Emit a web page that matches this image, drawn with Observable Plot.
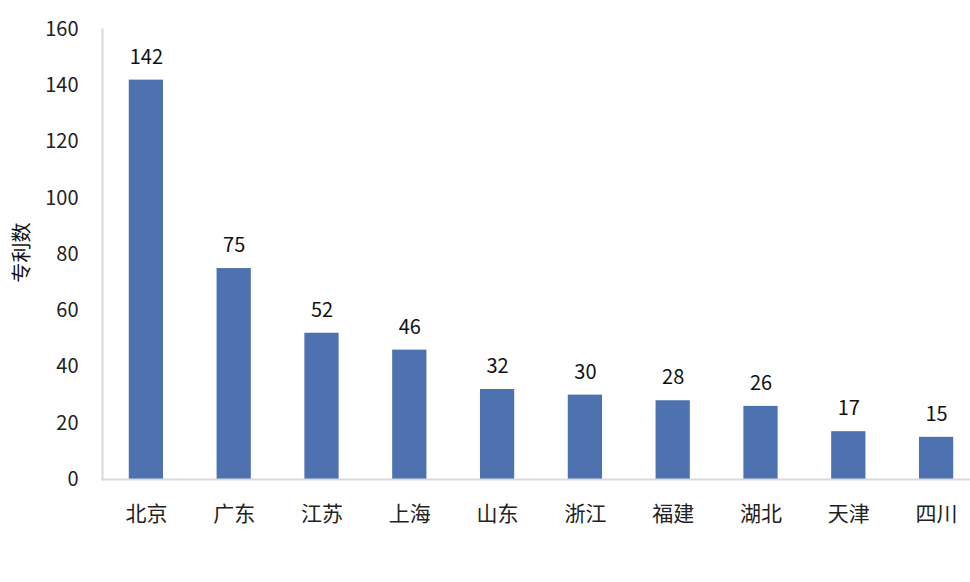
<!DOCTYPE html>
<html><head><meta charset="utf-8">
<script src="https://cdn.jsdelivr.net/npm/d3@7"></script>
<script src="https://cdn.jsdelivr.net/npm/@observablehq/plot@0.6"></script>
<style>
html,body{margin:0;padding:0;background:#fff;}
</style>
</head><body>
<div id="chart"></div>
<script>
const provinces = ["北京","广东","江苏","上海","山东","浙江","福建","湖北","天津","四川"];
const patents = [142, 75, 52, 46, 32, 30, 28, 26, 17, 15];
const yTicks = [0, 20, 40, 60, 80, 100, 120, 140, 160];
const yTitle = "专利数";

const data = provinces.map((p, i) => ({province: p, value: patents[i]}));
const font = "'Noto Sans CJK SC', 'Noto Sans', sans-serif";

const chart = Plot.plot({
  width: 970,
  height: 582,
  marginLeft: 102,
  marginRight: 0,
  marginTop: 29,
  marginBottom: 103,
  style: {fontFamily: font, background: "#fff", color: "#222"},
  x: {domain: provinces, range: [102, 980], paddingInner: 0.61, paddingOuter: 0.305, round: false, label: null},
  y: {domain: [0, 160], label: null},
  marks: [
    Plot.barY(data, {x: "province", y: "value", fill: "#4e71b0"}),
    Plot.frame({anchor: "left", stroke: "#d9d9d9", strokeWidth: 2}),
    Plot.frame({anchor: "bottom", stroke: "#d9d9d9", strokeWidth: 2}),
    Plot.axisY({ticks: yTicks, tickSize: 0, tickPadding: 24, fontSize: 20, label: null, fill: "#222"}),
    Plot.axisX({tickSize: 0, tickPadding: 27, fontSize: 21, label: null, fill: "#222"}),
    Plot.text(data, {x: "province", y: "value", text: d => String(d.value), dy: -23, fontSize: 20, fill: "#111"}),
    Plot.text([yTitle], {frameAnchor: "left", textAnchor: "middle", dx: -80, dy: -2, rotate: -90, fontSize: 20, fill: "#111"})
  ]
});
document.getElementById("chart").appendChild(chart);
</script>
</body></html>
